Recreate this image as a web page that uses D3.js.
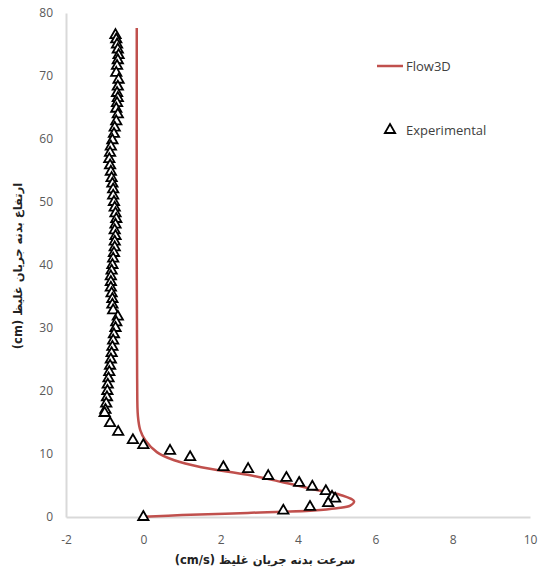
<!DOCTYPE html>
<html>
 <head>
  <meta charset="utf-8">
  <title>Flow3D vs Experimental</title>
  <style>
  body { margin: 0; background: #fff; }
  svg { display: block; font-family: "Open Sans", "DejaVu Sans", sans-serif; }
  </style>
  <script src="https://cdnjs.cloudflare.com/ajax/libs/d3/7.8.3/d3.min.js"></script>
 </head>
 <body>
  <script>
   // Flow3D velocity profile (x = velocity cm/s, y = height cm)
   const flowX = [-0.17, -0.17, -0.16, -0.14, -0.08, 0.05, 0.35, 0.8, 1.5, 2.7, 3.55, 4.4, 5.1, 5.45, 5.35, 5.0, 4.4, 2.7, 1.0, 0.0];
   const flowY = [77.6, 40, 22, 16, 13.8, 12.2, 10.3, 9.0, 7.9, 6.7, 5.6, 4.4, 3.5, 2.5, 1.8, 1.4, 1.05, 0.65, 0.3, 0.05];

   // Experimental measurements
   const expX = [
    -0.72, -0.70, -0.68, -0.66, -0.64, -0.66, -0.68, -0.70, -0.64, -0.66,
    -0.68, -0.66, -0.68, -0.70, -0.66, -0.70, -0.74, -0.76, -0.80, -0.84,
    -0.86, -0.88, -0.86, -0.84, -0.82, -0.80, -0.78, -0.78, -0.76, -0.74,
    -0.72, -0.70, -0.72, -0.74, -0.72, -0.74, -0.74, -0.76, -0.78, -0.80,
    -0.82, -0.84, -0.84, -0.84, -0.82, -0.80, -0.80, -0.78, -0.66, -0.70,
    -0.72, -0.76, -0.78, -0.80, -0.82, -0.84, -0.86, -0.88, -0.90, -0.92,
    -0.93, -0.94, -0.96, -0.98,
    -1.0, -0.86, -0.65, -0.27, 0.0, 0.69, 1.21, 2.07, 2.71, 3.23,
    3.70, 4.03, 4.37, 4.72, 4.88, 4.96, 4.78, 4.31, 3.62, 0.0
   ];
   const expY = [
    76.5, 75.8, 75.0, 74.2, 73.3, 72.5, 71.6, 70.5, 69.4, 68.3,
    67.3, 66.5, 65.7, 64.8, 63.9, 62.8, 61.8, 60.8, 59.8, 58.8,
    57.8, 56.8, 55.8, 54.8, 53.8, 52.9, 52.0, 51.0, 50.0, 49.1,
    48.2, 47.3, 46.4, 45.5, 44.6, 43.7, 42.8, 41.9, 41.0, 40.0,
    39.1, 38.2, 37.3, 36.4, 35.5, 34.6, 33.7, 32.8, 31.8, 30.9,
    30.0, 29.0, 28.0, 27.0, 26.0, 25.0, 24.0, 23.0, 22.0, 21.0,
    20.0, 19.0, 18.0, 17.0,
    16.5, 14.9, 13.5, 12.2, 11.4, 10.5, 9.5, 7.9, 7.6, 6.5,
    6.2, 5.4, 4.8, 4.1, 3.2, 2.9, 2.2, 1.6, 1.0, 0.0
   ];

   const xTicks = [-2, 0, 2, 4, 6, 8, 10];
   const yTicks = [0, 10, 20, 30, 40, 50, 60, 70, 80];
   const seriesNames = ["Flow3D", "Experimental"];
   const xTitle = "سرعت بدنه جریان غلیظ (cm/s)";
   const yTitle = "ارتفاع بدنه جریان غلیظ (cm)";

   const w = 539;
   const h = 571;
   const padL = 66, padR = 530, padT = 13, padB = 517;

   const xScale = d3.scaleLinear().domain([-2, 10]).range([padL, padR]);
   const yScale = d3.scaleLinear().domain([0, 80]).range([padB, padT]);

   const svg = d3.select("body")
                 .append("svg")
                 .attr("width", w)
                 .attr("height", h);

   const xAxis = d3.axisBottom(xScale).tickValues(xTicks).tickSize(0).tickPadding(18)
                   .tickFormat(d => String(d));
   const yAxis = d3.axisLeft(yScale).tickValues(yTicks).tickSize(0).tickPadding(13)
                   .tickFormat(d => String(d));

   const gx = svg.append("g")
      .attr("transform", "translate(0," + padB + ")")
      .call(xAxis);
   const gy = svg.append("g")
      .attr("transform", "translate(" + padL + ",0)")
      .call(yAxis);
   [gx, gy].forEach(g => {
    g.select(".domain").attr("stroke", "#d9d9d9").attr("stroke-width", 2);
    g.selectAll("text").attr("fill", "#595959").style("font-size", "12px")
     .style("font-family", "'Open Sans', sans-serif");
   });

   const line = d3.line()
                  .x((d, i) => xScale(flowX[i]))
                  .y((d, i) => yScale(flowY[i]))
                  .curve(d3.curveCatmullRom.alpha(0.5));
   svg.append("path")
      .attr("d", line(flowX))
      .attr("fill", "none")
      .attr("stroke", "#c0504d")
      .attr("stroke-width", 2.5);

   const tri = d3.symbol().type(d3.symbolTriangle).size(46);
   svg.selectAll(".pt")
      .data(expX)
      .enter()
      .append("path")
      .attr("class", "pt")
      .attr("d", tri)
      .attr("transform", (d, i) => "translate(" + xScale(d) + "," + yScale(expY[i]) + ")")
      .attr("fill", "white")
      .attr("stroke", "black")
      .attr("stroke-width", 1.8);

   // legend
   const legend = svg.append("g");
   legend.append("line")
         .attr("x1", 377).attr("x2", 403)
         .attr("y1", 66).attr("y2", 66)
         .attr("stroke", "#c0504d").attr("stroke-width", 2.5);
   legend.append("path")
         .attr("d", tri)
         .attr("transform", "translate(390,130)")
         .attr("fill", "white").attr("stroke", "black").attr("stroke-width", 1.8);
   legend.selectAll("text")
         .data(seriesNames)
         .enter()
         .append("text")
         .attr("x", 406)
         .attr("y", (d, i) => 71 + 64 * i)
         .attr("fill", "#404040")
         .style("font-size", "13px")
         .text(d => d);

   svg.append("text")
      .attr("x", 265)
      .attr("y", 564)
      .attr("text-anchor", "middle")
      .attr("direction", "rtl")
      .attr("fill", "#222")
      .style("font-size", "11.5px")
      .style("font-weight", "bold")
      .style("font-family", "'DejaVu Sans', sans-serif")
      .text(xTitle);

   svg.append("text")
      .attr("transform", "translate(22,266) rotate(-90)")
      .attr("text-anchor", "middle")
      .attr("direction", "rtl")
      .attr("fill", "#222")
      .style("font-size", "11.5px")
      .style("font-weight", "bold")
      .style("font-family", "'DejaVu Sans', sans-serif")
      .text(yTitle);
  </script>
 </body>
 </html>
